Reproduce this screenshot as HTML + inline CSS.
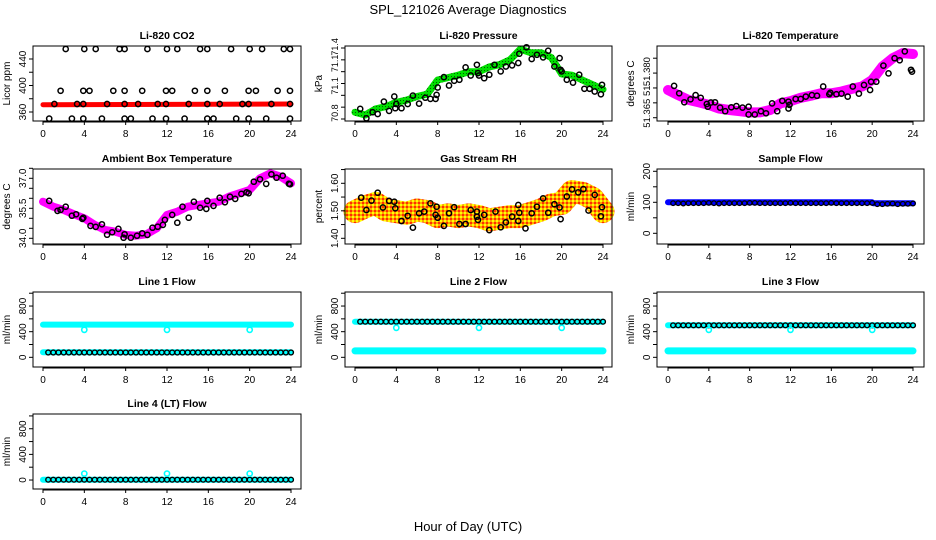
<!DOCTYPE html>
<html><head><meta charset="utf-8">
<style>
html,body{margin:0;padding:0;background:#fff;}
svg{display:block;font-family:"Liberation Sans",Arial,sans-serif;}
</style></head>
<body>
<svg id="chart" width="936" height="540" viewBox="0 0 936 540" xmlns="http://www.w3.org/2000/svg">
<defs>
<pattern id="rhpat" width="4" height="4" patternUnits="userSpaceOnUse">
<rect width="4" height="4" fill="#ffa500"/>
<rect x="0" y="0" width="2" height="2" fill="#ffff00"/>
<rect x="2" y="2" width="2" height="2" fill="#ff3000"/>
</pattern>
<pattern id="grpat" width="3" height="3" patternUnits="userSpaceOnUse">
<rect width="3" height="3" fill="#00e000"/>
<rect x="1" y="1" width="1" height="1" fill="#006000"/>
</pattern>
</defs>
<text x="468" y="14" font-size="13" text-anchor="middle">SPL_121026  Average Diagnostics</text>
<text x="468" y="531" font-size="13" text-anchor="middle">Hour of Day (UTC)</text>
</svg>
<script>
// ---- data ----
const xTicks = [0,4,8,12,16,20,24];
const hours = [0,1,2,3,4,5,6,7,8,9,10,11,12,13,14,15,16,17,18,19,20,21,22,23,24];
// CO2
const co2BandH = [0,24];
const co2BandV = [371,372];
const co2X = [2.2,4,5.1,7.4,7.9,10.1,12,13,15.2,15.9,18.2,20,21.2,23.3,23.9,
 1.7,3.9,4.5,6.8,7.9,9.6,11.9,12.5,14.7,15.9,17.6,19.9,20.6,22.7,23.9,
 1.1,3.3,3.9,6.2,7.9,9.2,11.1,11.9,14.1,15.9,17.1,19.3,19.9,22.1,23.9,
 0.6,2.8,3.9,5.7,7.9,8.5,10.6,11.9,13.7,15.9,16.5,18.7,19.9,21.6,23.9];
const co2Y = [455,455,455,455,455,455,455,455,455,455,455,455,455,455,455,
 392,392,392,392,392,392,392,392,392,392,392,392,392,392,392,
 372,372,372,372,372,372,372,372,372,372,372,372,372,372,372,
 350,350,350,350,350,350,350,350,350,350,350,350,350,350,350];
// Pressure
const presBand = [70.857,70.834,70.885,70.905,70.94,70.96,70.99,71.01,71.13,71.15,71.17,71.20,71.20,71.24,71.26,71.30,71.39,71.36,71.36,71.32,71.18,71.17,71.13,71.09,71.05];
const presX = [0.5,1.1,1.7,2.2,2.8,3.3,3.8,3.9,4.0,4.5,5.1,5.6,6.2,6.8,7.3,7.8,7.9,8,8.6,9.1,9.6,10.1,10.7,11.2,11.8,11.9,12,12.5,13,13.5,14.1,14.6,15.2,15.8,15.9,16.6,17.1,17.6,18.2,18.7,19.3,19.8,19.9,20,20.5,21.1,21.7,22.2,22.7,23.2,23.8,23.9];
const presY = [70.885,70.806,70.857,70.842,70.947,70.868,70.99,70.891,70.927,70.891,70.927,70.998,70.93,70.98,70.97,70.97,71.004,71.066,71.154,71.083,71.123,71.131,71.236,71.168,71.258,71.188,71.168,71.145,71.174,71.258,71.202,71.244,71.253,71.273,71.352,71.406,71.307,71.343,71.321,71.377,71.244,71.315,71.216,71.202,71.131,71.108,71.174,71.055,71.055,71.032,71.009,71.089];
// Li-820 temperature
const ltBand = [51.3743,51.3726,51.3710,51.3702,51.3693,51.3681,51.3676,51.3672,51.3668,51.3668,51.3676,51.3698,51.3706,51.3717,51.3724,51.3732,51.3732,51.3738,51.3747,51.3755,51.3777,51.3822,51.3850,51.3867,51.3864];
const ltX = [0.6,1.1,1.6,2.2,2.7,3.2,3.8,3.9,4.2,4.6,5.1,5.6,6.2,6.7,7.3,7.9,7.9,8.5,9.1,9.6,10.2,10.7,11.2,11.8,11.8,11.9,12.5,13,13.5,14.1,14.6,15.2,15.8,15.9,16.5,17,17.6,18.1,18.7,19.2,19.8,19.9,20.4,21.1,21.6,22.2,22.7,23.2,23.8,23.9];
const ltY = [51.3757,51.3732,51.3702,51.3712,51.3726,51.3717,51.3696,51.3687,51.3701,51.3702,51.3684,51.3672,51.3685,51.3689,51.3684,51.3687,51.3661,51.3661,51.3672,51.3665,51.3698,51.3672,51.3707,51.3704,51.3681,51.3693,51.3713,51.3713,51.3721,51.3726,51.3724,51.3755,51.3729,51.3734,51.3729,51.3731,51.3721,51.3755,51.3731,51.3760,51.3743,51.3771,51.3771,51.3825,51.3799,51.3850,51.3843,51.3873,51.3811,51.3805];
// Ambient box temperature
const abBand = [35.83,35.58,35.42,35.2,35.0,34.67,34.42,34.33,34.17,34.13,34.2,34.5,35.17,35.33,35.58,35.67,35.75,35.83,36.08,36.25,36.42,37.0,37.25,37.08,36.75];
const abX = [0.6,1.4,1.7,2.2,2.8,3.2,3.8,3.9,4.6,5.1,5.7,6.2,6.7,7.3,7.8,7.9,8.5,9.1,9.6,10.1,10.6,11.1,11.6,11.8,12.5,13,13.5,14.1,14.6,15.2,15.8,15.9,16.5,17.1,17.6,18.1,18.6,19.2,19.7,19.9,20.4,21,21.6,22.1,22.6,23.2,23.8,23.9];
const abY = [35.87,35.37,35.42,35.58,35.13,35.2,34.97,35.03,34.62,34.57,34.7,34.18,34.3,34.47,34.03,34.2,34.03,34.13,34.25,34.17,34.53,34.58,34.67,34.92,35.17,34.78,35.58,35.03,35.83,35.53,35.47,35.87,35.62,36.03,35.8,36.08,35.97,36.22,36.3,36.25,36.83,36.95,36.72,37.2,37.03,37.13,36.73,36.7];
// Gas stream RH
const rhBand = [1.497,1.515,1.527,1.503,1.497,1.491,1.503,1.497,1.479,1.485,1.479,1.485,1.479,1.467,1.473,1.479,1.479,1.491,1.503,1.521,1.527,1.570,1.564,1.545,1.497];
const rhX = [0.6,1.1,1.6,2.2,2.7,3.3,3.8,3.9,4.5,5.1,5.6,6.2,6.7,7.3,7.8,7.9,8,8.6,9.1,9.6,10.1,10.7,11.2,11.8,11.8,11.9,12.5,13,13.6,14.1,14.6,15.2,15.8,15.8,15.9,16.5,17.1,17.6,18.2,18.7,19.3,19.8,19.9,20.5,21,21.6,22.1,22.6,23.2,23.8,23.9];
const rhY = [1.548,1.503,1.537,1.566,1.512,1.536,1.533,1.509,1.463,1.482,1.439,1.491,1.497,1.527,1.485,1.515,1.475,1.445,1.491,1.513,1.452,1.452,1.503,1.497,1.479,1.467,1.485,1.430,1.497,1.440,1.458,1.479,1.521,1.463,1.493,1.436,1.491,1.515,1.545,1.493,1.524,1.512,1.470,1.552,1.578,1.567,1.579,1.501,1.558,1.480,1.513];
// Flows
const flowT = [0.5,1,1.5,2,2.5,3,3.5,4,4.5,5,5.5,6,6.5,7,7.5,8,8.5,9,9.5,10,10.5,11,11.5,12,12.5,13,13.5,14,14.5,15,15.5,16,16.5,17,17.5,18,18.5,19,19.5,20,20.5,21,21.5,22,22.5,23,23.5,24];
const sampleBlack = [97,97,96,97,97,97,97,98,97,96,97,97,97,97,97,98,98,97,97,97,97,97,97,98,97,97,97,97,97,97,97,98,97,97,97,97,97,97,97,98,94,94,95,96,94,95,95,96];
const sampleBandH = [0,20,20.1,24];
const sampleBandV = [100,100,97,97];
const line1Black = [75,75,75,75,75,75,75,75,75,75,75,75,75,75,75,75,75,75,75,75,75,75,75,75,75,75,75,75,75,75,75,75,75,75,75,75,75,75,75,75,75,75,75,75,75,75,75,75];
const line2Black = [555,555,555,555,555,555,555,555,555,555,555,555,555,555,555,555,555,555,555,555,555,555,555,555,555,555,555,555,555,555,555,555,555,555,555,555,555,555,555,555,555,555,555,555,555,555,555,555];
const line3Black = [500,500,500,500,500,500,500,500,500,500,500,500,500,500,500,500,500,500,500,500,500,500,500,500,500,500,500,500,500,500,500,500,500,500,500,500,500,500,500,500,500,500,500,500,500,500,500,500];
const line4Black = [5,5,5,5,5,5,5,5,5,5,5,5,5,5,5,5,5,5,5,5,5,5,5,5,5,5,5,5,5,5,5,5,5,5,5,5,5,5,5,5,5,5,5,5,5,5,5,5];
const bandH = [0,24];
const line1Hi = [510,510]; const line1Lo = [80,80];
const line2Hi = [555,555]; const line2Lo = [100,100];
const line3Hi = [500,500]; const line3Lo = [100,100];
const line4Hi = [5,5];
const outlierH = [4,12,20];
const line1Out = [430,430,430];
const line2Out = [460,460,460];
const line3Out = [430,430,430];
const line4Out = [100,100,100];

// ---- drawing ----
const svg = document.getElementById('chart');
const NS = 'http://www.w3.org/2000/svg';
function mk(tag, attrs, parent) {
  const e = document.createElementNS(NS, tag);
  for (const k in attrs) e.setAttribute(k, attrs[k]);
  (parent || svg).appendChild(e);
  return e;
}
const cols = [{b0:33,b1:301,x0:43,x1:291},{b0:345,b1:612,x0:355,x1:603},{b0:657,b1:924,x0:668,x1:913}];
const rows = [{t:46,b:121},{t:169,b:244},{t:292,b:367},{t:414,b:489}];

function panel(name, title, ytitle, c, r, ylo, yhi, yticks, ylabels, lfs) {
  const C = cols[c], R = rows[r];
  const g = mk('g', {});
  
  
  const sx = h => C.x0 + (h / 24) * (C.x1 - C.x0);
  const sy = v => R.b - (v - ylo) / (yhi - ylo) * (R.b - R.t);
  const plot = mk('g', {}, g);
  
  
  const box = mk('rect', {x:C.b0, y:R.t, width:C.b1 - C.b0, height:R.b - R.t, fill:'none', stroke:'#000', 'stroke-width':1}, g);
  
  
  const t = mk('text', {x:(C.b0 + C.b1) / 2, y:R.t - 7, 'font-size':10.5, 'font-weight':'bold', 'text-anchor':'middle'}, g);
  t.textContent = title;
  
  
  const yt = mk('text', {x:0, y:0, 'font-size':10, 'text-anchor':'middle', transform:'translate(' + (C.b0 - 23) + ',' + ((R.t + R.b) / 2) + ') rotate(-90)'}, g);
  yt.textContent = ytitle;
  
  
  const xa = mk('g', {}, g);
  
  
  mk('line', {x1:sx(xTicks[0]), x2:sx(xTicks[xTicks.length - 1]), y1:R.b + 1, y2:R.b + 1, stroke:'#000'}, xa);
  xTicks.forEach(v => {
    mk('line', {x1:sx(v), x2:sx(v), y1:R.b, y2:R.b + 4, stroke:'#000'}, xa);
    const l = mk('text', {x:sx(v), y:R.b + 16, 'font-size':10, 'text-anchor':'middle'}, xa);
    l.textContent = String(v);
    
    
  });
  const ya = mk('g', {}, g);
  
  
  yticks.forEach(v => {
    mk('line', {x1:C.b0 - 4, x2:C.b0, y1:sy(v), y2:sy(v), stroke:'#000'}, ya);
  });
  ylabels.forEach(p => {
    const l = mk('text', {x:0, y:0, 'font-size':lfs || 10, 'text-anchor':'middle', transform:'translate(' + (C.b0 - 7) + ',' + sy(p[0]) + ') rotate(-90)'}, ya);
    l.textContent = p[1];
    
    
  });
  return {sx, sy, plot};
}
function band(P, hs, vs, color, w, name) {
  const d = hs.map((h, i) => (i ? 'L' : 'M') + P.sx(h).toFixed(1) + ',' + P.sy(vs[i]).toFixed(1)).join(' ');
  const p = mk('path', {d:d, fill:'none', stroke:color, 'stroke-width':w, 'stroke-linecap':'round', 'stroke-linejoin':'round'}, P.plot);
  
  
}
function pts(P, hs, vs, color, name, r, sw) {
  const g = mk('g', {}, P.plot);
  
  
  hs.forEach((h, i) => {
    const c = mk('circle', {cx:P.sx(h).toFixed(1), cy:P.sy(vs[i]).toFixed(1), r:r || 2.6, fill:'none', stroke:color, 'stroke-width':sw || 1.5}, g);
    
    
  });
}
function rng(a, b, s) { const o = []; for (let v = a; v <= b + 1e-9; v += s) o.push(+v.toFixed(4)); return o; }

let P = panel('co2', 'Li-820 CO2', 'Licor ppm', 0, 0, 346.4, 459.6, rng(360, 440, 20), [[360,'360'],[400,'400'],[440,'440']]);
band(P, co2BandH, co2BandV, '#ff0000', 5, 'co2-band');
pts(P, co2X, co2Y, '#000', 'co2-means');
P = panel('pressure', 'Li-820 Pressure', 'kPa', 1, 0, 70.783, 71.417, rng(70.8, 71.4, 0.1), [[70.85,'70.8'],[71.08,'71.1'],[71.27,'71.1'],[71.41,'71.4']], 9);
band(P, hours, presBand, 'url(#grpat)', 7, 'pressure-band');
pts(P, presX, presY, '#000', 'pressure-means');
P = panel('licor-temp', 'Li-820 Temperature', 'degrees C', 2, 0, 51.3639, 51.3891, rng(51.365, 51.385, 0.005), [[51.3665,'51.365'],[51.3745,'51.'],[51.3805,'51.380']], 9.5);
band(P, hours, ltBand, '#ff00ff', 10, 'licor-temp-band');
pts(P, ltX, ltY, '#000', 'licor-temp-means');
P = panel('ambient-temp', 'Ambient Box Temperature', 'degrees C', 0, 1, 33.715, 37.465, rng(34, 37.5, 0.5), [[34,'34.0'],[35.5,'35.5'],[37,'37.0']]);
band(P, hours, abBand, '#ff00ff', 8, 'ambient-temp-band');
pts(P, abX, abY, '#000', 'ambient-temp-means');
P = panel('rh', 'Gas Stream RH', 'percent', 1, 1, 1.3793, 1.652, rng(1.40, 1.65, 0.05), [[1.40,'1.40'],[1.50,'1.50'],[1.60,'1.60']]);
band(P, hours, rhBand, 'url(#rhpat)', 23, 'rh-band');
pts(P, rhX, rhY, '#000', 'rh-means');
P = panel('sample-flow', 'Sample Flow', 'ml/min', 2, 1, -34.5, 207.4, rng(0, 200, 50), [[0,'0'],[100,'100'],[200,'200']]);
band(P, sampleBandH, sampleBandV, '#0000ff', 6, 'sample-flow-band');
pts(P, flowT, sampleBlack, '#000', 'sample-flow-means', 2.3, 1.3);
const flowTicks = rng(0, 1000, 200);
const flowLabels = [[0,'0'],[400,'400'],[800,'800']];
P = panel('line1-flow', 'Line 1 Flow', 'ml/min', 0, 2, -151, 1019, flowTicks, flowLabels);
band(P, bandH, line1Hi, '#00ffff', 6, 'line1-high-band');
band(P, bandH, line1Lo, '#00ffff', 6, 'line1-low-band');
pts(P, flowT, line1Black, '#000', 'line1-means', 2.4, 1.4);
pts(P, outlierH, line1Out, '#00ffff', 'line1-outliers', 2.6, 1.6);
P = panel('line2-flow', 'Line 2 Flow', 'ml/min', 1, 2, -151, 1019, flowTicks, flowLabels);
band(P, bandH, line2Hi, '#00ffff', 6, 'line2-high-band');
band(P, bandH, line2Lo, '#00ffff', 7, 'line2-low-band');
pts(P, flowT, line2Black, '#000', 'line2-means', 2.4, 1.4);
pts(P, outlierH, line2Out, '#00ffff', 'line2-outliers', 2.6, 1.6);
P = panel('line3-flow', 'Line 3 Flow', 'ml/min', 2, 2, -151, 1019, flowTicks, flowLabels);
band(P, bandH, line3Hi, '#00ffff', 6, 'line3-high-band');
band(P, bandH, line3Lo, '#00ffff', 7, 'line3-low-band');
pts(P, flowT, line3Black, '#000', 'line3-means', 2.4, 1.4);
pts(P, outlierH, line3Out, '#00ffff', 'line3-outliers', 2.6, 1.6);
P = panel('line4-flow', 'Line 4 (LT) Flow', 'ml/min', 0, 3, -140, 1030, flowTicks, flowLabels);
band(P, bandH, line4Hi, '#00ffff', 6, 'line4-band');
pts(P, flowT, line4Black, '#000', 'line4-means', 2.4, 1.4);
pts(P, outlierH, line4Out, '#00ffff', 'line4-outliers', 2.6, 1.6);
</script>
</body></html>
